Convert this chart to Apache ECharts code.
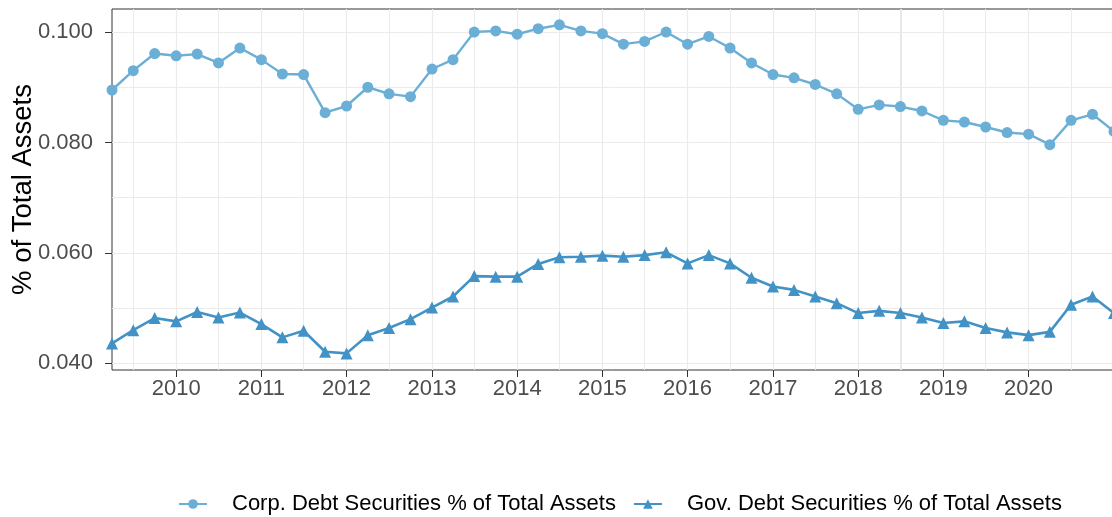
<!DOCTYPE html>
<html>
<head>
<meta charset="utf-8">
<script src="https://cdn.jsdelivr.net/npm/echarts@6/dist/echarts.min.js"></script>
<style>
  html, body { margin: 0; padding: 0; background: #fff; }
  #chart { width: 1112px; height: 517px; }
</style>
</head>
<body>
<div id="chart"></div>
<script>
// quarterly observations
const quarters = [
  '2009-04', '2009-07', '2009-10',
  '2010-01', '2010-04', '2010-07', '2010-10',
  '2011-01', '2011-04', '2011-07', '2011-10',
  '2012-01', '2012-04', '2012-07', '2012-10',
  '2013-01', '2013-04', '2013-07', '2013-10',
  '2014-01', '2014-04', '2014-07', '2014-10',
  '2015-01', '2015-04', '2015-07', '2015-10',
  '2016-01', '2016-04', '2016-07', '2016-10',
  '2017-01', '2017-04', '2017-07', '2017-10',
  '2018-01', '2018-04', '2018-07', '2018-10',
  '2019-01', '2019-04', '2019-07', '2019-10',
  '2020-01', '2020-04', '2020-07', '2020-10',
  '2021-01'
];
const corpShare = [
  0.0895, 0.0930, 0.0961,
  0.0957, 0.0960, 0.0944, 0.0971,
  0.0950, 0.0924, 0.0923, 0.0854,
  0.0866, 0.0900, 0.0888, 0.0883,
  0.0933, 0.0950, 0.1000, 0.1002,
  0.0996, 0.1006, 0.1013, 0.1002,
  0.0997, 0.0978, 0.0983, 0.1000,
  0.0978, 0.0992, 0.0971, 0.0944,
  0.0923, 0.0917, 0.0905, 0.0888,
  0.0860, 0.0868, 0.0865, 0.0857,
  0.0840, 0.0837, 0.0828, 0.0818,
  0.0815, 0.0796, 0.0840, 0.0851,
  0.0820
];
const govShare = [
  0.0436, 0.0460, 0.0482,
  0.0476, 0.0493, 0.0483, 0.0492,
  0.0471, 0.0447, 0.0459, 0.0421,
  0.0418, 0.0451, 0.0464, 0.0480,
  0.0501, 0.0521, 0.0558, 0.0557,
  0.0557, 0.0580, 0.0592, 0.0593,
  0.0595, 0.0593, 0.0596, 0.0601,
  0.0581, 0.0596, 0.0581, 0.0555,
  0.0539, 0.0533, 0.0521, 0.0509,
  0.0491, 0.0495, 0.0491, 0.0483,
  0.0473, 0.0476, 0.0464, 0.0456,
  0.0451, 0.0457, 0.0506, 0.0521,
  0.0491
];
const seriesNames = ['Corp. Debt Securities % of Total Assets', 'Gov. Debt Securities % of Total Assets'];

// axis ticks
const yearTicks = ['2010', '2011', '2012', '2013', '2014', '2015', '2016', '2017', '2018', '2019', '2020'];
const halfYearTicks = ['2009-07', '2010-07', '2011-07', '2012-07', '2013-07', '2014-07', '2015-07',
  '2016-07', '2017-07', '2018-07', '2019-07', '2020-07'];
const yMajor = [0.04, 0.06, 0.08, 0.10];
const yMinor = [0.05, 0.07, 0.09];
const xRange = ['2009-04', '2021-01'];
const yRange = [0.03879, 0.10417];
const refLines = ['2018-07'];

const toTime = s => {
  const p = s.split('-');
  return Date.UTC(+p[0], p[1] ? +p[1] - 1 : 0, 1);
};

const chartDom = document.getElementById('chart');
const myChart = echarts.init(chartDom, null, { renderer: 'canvas' });

const font = 'Liberation Sans, Arial, sans-serif';
const gridColor = '#ebebeb';

const option = {
  animation: false,
  textStyle: { fontFamily: font },
  grid: {
    left: 112, right: -2, top: 9, bottom: 147,
    outerBoundsMode: 'none',
    containLabel: false,
    show: true, borderColor: '#333333', borderWidth: 1, backgroundColor: '#fff'
  },
  xAxis: [
    {
      type: 'value',
      min: toTime(xRange[0]),
      max: toTime(xRange[1]),
      axisLine: { show: false },
      axisTick: { show: true, length: 7, lineStyle: { color: '#333333' }, customValues: yearTicks.map(toTime) },
      axisLabel: {
        customValues: yearTicks.map(toTime),
        formatter: v => String(new Date(v).getUTCFullYear()),
        color: '#4d4d4d', fontSize: 22, margin: 8, fontFamily: font
      },
      splitLine: { show: true, lineStyle: { color: gridColor, width: 1.2 } }
    },
    {
      type: 'value',
      min: toTime(xRange[0]),
      max: toTime(xRange[1]),
      position: 'bottom',
      axisLine: { show: false },
      axisTick: { show: false, customValues: halfYearTicks.map(toTime) },
      axisLabel: { show: false },
      splitLine: { show: true, lineStyle: { color: gridColor, width: 1 } }
    }
  ],
  yAxis: [
    {
      type: 'value',
      min: yRange[0],
      max: yRange[1],
      name: '% of Total Assets',
      nameLocation: 'middle',
      nameRotate: 90,
      nameGap: 75,
      nameMoveOverlap: false,
      nameTextStyle: { color: '#000', fontSize: 27.5, fontFamily: font },
      axisLine: { show: false },
      axisTick: { show: true, length: 7, lineStyle: { color: '#333333' }, customValues: yMajor },
      axisLabel: {
        customValues: yMajor,
        formatter: v => v.toFixed(3),
        color: '#4d4d4d', fontSize: 22, margin: 19, fontFamily: font
      },
      splitLine: { show: true, lineStyle: { color: gridColor, width: 1.2 } }
    },
    {
      type: 'value',
      min: yRange[0],
      max: yRange[1],
      position: 'left',
      axisLine: { show: false },
      axisTick: { show: false, customValues: yMinor },
      axisLabel: { show: false },
      splitLine: { show: true, lineStyle: { color: gridColor, width: 1 } }
    }
  ],
  legend: {
    bottom: -3,
    left: 173,
    itemWidth: 28,
    itemHeight: 12,
    itemGap: 17,
    textStyle: { color: '#000', fontSize: 22, fontFamily: font, padding: [0, 0, 0, 20] },
    data: seriesNames
  },
  series: [
    {
      name: seriesNames[0],
      type: 'line',
      data: quarters.map((q, i) => [toTime(q), corpShare[i]]),
      symbol: 'circle',
      symbolSize: 11,
      itemStyle: { color: '#6baed6' },
      lineStyle: { color: '#6baed6', width: 2.4 },
      z: 3
    },
    {
      name: seriesNames[1],
      type: 'line',
      data: quarters.map((q, i) => [toTime(q), govShare[i]]),
      symbol: 'triangle',
      symbolSize: 12,
      itemStyle: { color: '#4292c6' },
      lineStyle: { color: '#4292c6', width: 2.6 },
      z: 3,
      markLine: {
        silent: true,
        symbol: 'none',
        label: { show: false },
        lineStyle: { color: '#e8e8e8', width: 2, type: 'solid' },
        z: 1,
        data: refLines.map(d => ({ xAxis: toTime(d) }))
      }
    }
  ]
};

option && myChart.setOption(option);
</script>
</body>
</html>
